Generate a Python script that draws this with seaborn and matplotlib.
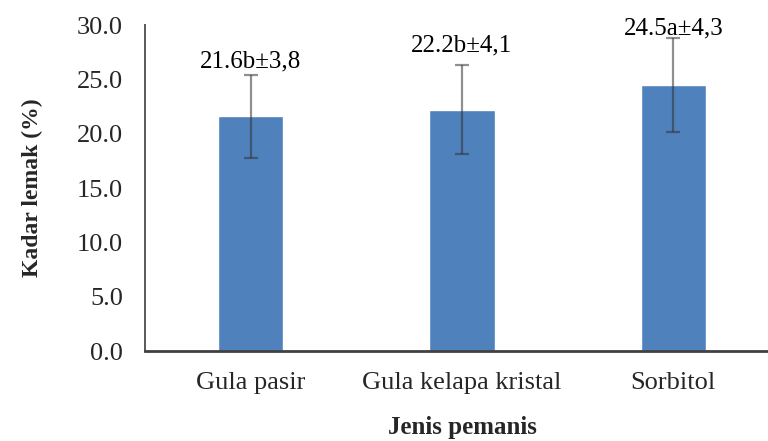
import matplotlib
matplotlib.use("Agg")
import matplotlib.pyplot as plt
import numpy as np
import pandas as pd
import seaborn as sns

# === data ===
CATEGORIES = ["Gula pasir", "Gula kelapa kristal", "Sorbitol"]
FAT_MEAN = [21.6, 22.2, 24.5]
FAT_SD = [3.8, 4.1, 4.3]
LETTERS = ["b", "b", "a"]
SD_TEXT = ["3,8", "4,1", "4,3"]
Y_TICKS = [0, 5, 10, 15, 20, 25, 30]

# === style ===
BAR_COLOR = "#4F81BD"
SPINE_COLOR = "#595959"
LABEL_PAD = [2, 6, -1]  # points between error bar top and its label

df = pd.DataFrame({"jenis": CATEGORIES, "lemak": FAT_MEAN, "sd": FAT_SD})

sns.set_theme(style="white")
plt.rcParams["font.family"] = ["Liberation Serif", "DejaVu Serif"]

fig = plt.figure(figsize=(7.68, 4.41), dpi=100)
ax = fig.add_axes([0.1888, 0.204, 0.8255, 0.7393])

sns.barplot(data=df, x="jenis", y="lemak", order=CATEGORIES, color=BAR_COLOR,
            saturation=1, width=0.31, errorbar=None, ax=ax)
ax.errorbar(np.arange(len(CATEGORIES)), df["lemak"], yerr=df["sd"], fmt="none",
            ecolor=(0.2, 0.2, 0.2, 0.55), elinewidth=1.6, capsize=5, capthick=1.6)

for i, (m, s) in enumerate(zip(FAT_MEAN, FAT_SD)):
    ax.annotate(f"{m:.1f}{LETTERS[i]}\u00b1{SD_TEXT[i]}", (i, m + s),
                xytext=(0, LABEL_PAD[i]), textcoords="offset points",
                ha="center", va="bottom", fontsize=18, color="black")

ax.set_xlim(-0.5, 2.5)
ax.set_ylim(0, 30)
ax.set_yticks(Y_TICKS)
ax.set_yticklabels([f"{t:.1f}" for t in Y_TICKS], fontsize=19)
ax.tick_params(axis="y", length=0, pad=16)
ax.tick_params(axis="x", length=0, pad=15, labelsize=19)

for side in ["top", "right"]:
    ax.spines[side].set_visible(False)
ax.spines["left"].set_color(SPINE_COLOR)
ax.spines["left"].set_linewidth(1.4)
ax.spines["bottom"].set_color("#404040")
ax.spines["bottom"].set_linewidth(2)

ax.set_xlabel("Jenis pemanis", fontsize=18, fontweight="bold", labelpad=16)
ax.set_ylabel("Kadar lemak (%)", fontsize=17, fontweight="bold", labelpad=24)

fig.savefig("out.png", dpi=100)
